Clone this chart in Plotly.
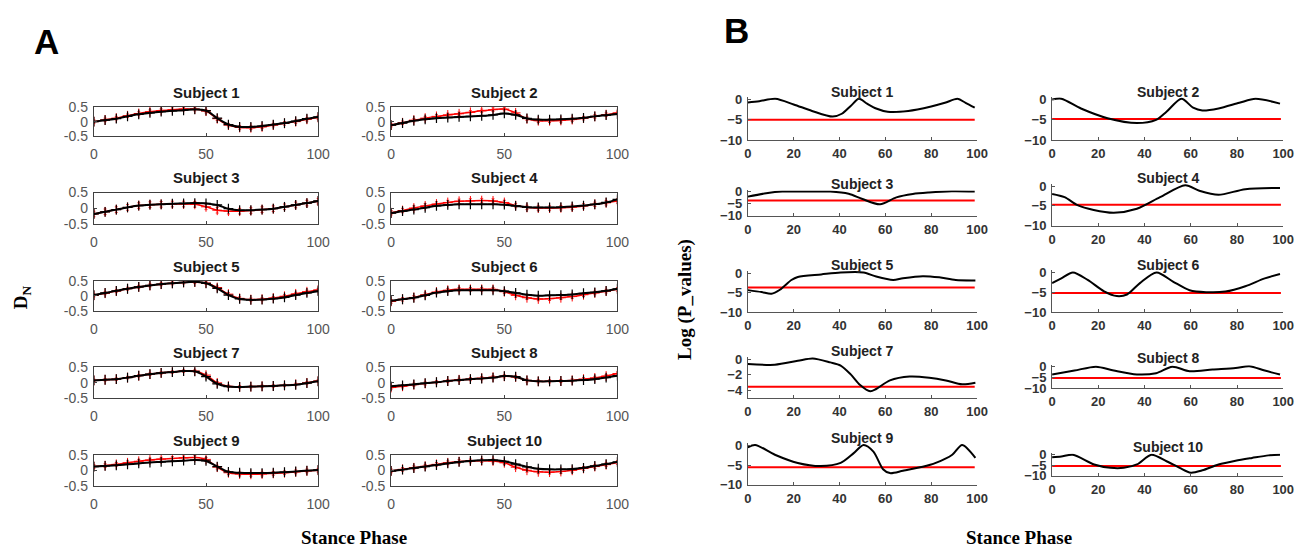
import plotly.graph_objects as go

W, H = 1314, 555

# ---------------- Panel A data (D_N vs stance phase) ----------------
stance_x = [0, 5, 10, 15, 20, 25, 30, 35, 40, 45, 50, 55, 60, 65, 70, 75, 80, 85, 90, 95, 100]

s1_black = [0.0, 0.05, 0.1, 0.18, 0.25, 0.3, 0.34, 0.37, 0.39, 0.42, 0.38, 0.12, -0.1, -0.18, -0.18, -0.15, -0.1, -0.05, 0.02, 0.1, 0.16]
s1_red = [0.0, 0.06, 0.12, 0.2, 0.28, 0.34, 0.38, 0.41, 0.43, 0.43, 0.36, 0.1, -0.12, -0.2, -0.21, -0.18, -0.12, -0.06, 0.0, 0.08, 0.14]
s2_black = [-0.12, -0.05, 0.03, 0.08, 0.12, 0.14, 0.16, 0.18, 0.2, 0.23, 0.28, 0.23, 0.11, 0.07, 0.07, 0.08, 0.1, 0.13, 0.18, 0.22, 0.26]
s2_red = [-0.12, -0.04, 0.05, 0.12, 0.18, 0.23, 0.27, 0.32, 0.37, 0.41, 0.43, 0.3, 0.1, 0.03, 0.03, 0.04, 0.07, 0.12, 0.18, 0.24, 0.3]
s3_black = [-0.19, -0.12, -0.05, 0.02, 0.08, 0.11, 0.12, 0.14, 0.15, 0.16, 0.15, 0.1, -0.02, -0.07, -0.07, -0.05, -0.02, 0.04, 0.1, 0.16, 0.23]
s3_red = [-0.19, -0.12, -0.05, 0.02, 0.08, 0.11, 0.12, 0.13, 0.13, 0.12, 0.04, -0.07, -0.1, -0.1, -0.08, -0.05, -0.02, 0.04, 0.1, 0.16, 0.22]
s4_black = [-0.16, -0.1, -0.05, 0.01, 0.07, 0.1, 0.12, 0.12, 0.12, 0.12, 0.11, 0.07, 0.03, 0.02, 0.02, 0.03, 0.05, 0.08, 0.12, 0.18, 0.28]
s4_red = [-0.15, -0.08, 0.0, 0.07, 0.13, 0.18, 0.22, 0.23, 0.24, 0.23, 0.18, 0.08, 0.02, 0.0, 0.0, 0.01, 0.03, 0.07, 0.12, 0.17, 0.23]
s5_black = [0.03, 0.1, 0.17, 0.24, 0.3, 0.35, 0.39, 0.42, 0.45, 0.47, 0.42, 0.25, 0.03, -0.1, -0.13, -0.12, -0.09, -0.05, 0.03, 0.1, 0.16]
s5_red = [0.02, 0.09, 0.16, 0.24, 0.3, 0.35, 0.39, 0.42, 0.45, 0.46, 0.43, 0.28, 0.06, -0.08, -0.12, -0.11, -0.07, -0.01, 0.07, 0.14, 0.2]
s6_black = [-0.16, -0.11, -0.06, 0.02, 0.11, 0.16, 0.19, 0.19, 0.19, 0.19, 0.16, 0.1, 0.04, 0.01, 0.02, 0.03, 0.05, 0.09, 0.12, 0.17, 0.24]
s6_red = [-0.18, -0.11, -0.05, 0.04, 0.13, 0.19, 0.22, 0.22, 0.22, 0.22, 0.14, 0.02, -0.06, -0.1, -0.09, -0.06, -0.02, 0.04, 0.1, 0.16, 0.22]
s7_black = [0.08, 0.1, 0.12, 0.17, 0.23, 0.28, 0.32, 0.35, 0.38, 0.37, 0.2, -0.03, -0.12, -0.13, -0.12, -0.11, -0.1, -0.08, -0.06, -0.01, 0.05]
s7_red = [0.08, 0.1, 0.12, 0.17, 0.23, 0.28, 0.32, 0.35, 0.38, 0.38, 0.25, 0.0, -0.11, -0.13, -0.12, -0.11, -0.1, -0.08, -0.05, 0.0, 0.06]
s8_black = [-0.11, -0.08, -0.05, -0.01, 0.02, 0.06, 0.09, 0.12, 0.14, 0.17, 0.22, 0.2, 0.08, 0.05, 0.05, 0.06, 0.07, 0.09, 0.12, 0.17, 0.23]
s8_red = [-0.15, -0.11, -0.06, -0.02, 0.02, 0.06, 0.1, 0.12, 0.15, 0.18, 0.21, 0.19, 0.08, 0.05, 0.05, 0.06, 0.08, 0.12, 0.16, 0.22, 0.3]
s9_black = [0.12, 0.14, 0.16, 0.19, 0.22, 0.25, 0.27, 0.29, 0.31, 0.33, 0.3, 0.12, -0.05, -0.08, -0.09, -0.09, -0.08, -0.06, -0.04, -0.01, 0.01]
s9_red = [0.12, 0.15, 0.19, 0.24, 0.29, 0.33, 0.36, 0.38, 0.4, 0.41, 0.35, 0.1, -0.08, -0.12, -0.13, -0.12, -0.1, -0.08, -0.05, -0.02, 0.0]
s10_black = [-0.02, 0.02, 0.07, 0.12, 0.17, 0.22, 0.27, 0.3, 0.32, 0.33, 0.29, 0.2, 0.11, 0.05, 0.03, 0.03, 0.04, 0.08, 0.14, 0.2, 0.27]
s10_red = [-0.02, 0.03, 0.08, 0.13, 0.19, 0.24, 0.28, 0.3, 0.31, 0.3, 0.24, 0.1, 0.0, -0.05, -0.06, -0.04, 0.0, 0.06, 0.12, 0.18, 0.25]

red_err = [0.06, 0.06, 0.09, 0.07, 0.05, 0.06, 0.04, 0.05, 0.06, 0.06]

a_ticks_x = [0, 50, 100]
a_ticks_y = [-0.5, 0, 0.5]
a_ticklabels_y = ["-0.5", "0", "0.5"]

# ---------------- Panel B data (log p-values) ----------------
b1_x = [0, 5, 12, 20, 28, 37, 41, 45, 48.5, 52, 56, 61, 70, 80, 86, 91.5, 95, 99]
b1_y = [-0.7, -0.4, 0.2, -1.2, -2.8, -4.2, -3.5, -1.5, 0.2, -1.0, -2.2, -3.0, -2.8, -1.7, -0.8, 0.2, -0.8, -2.0]
b2_x = [0, 4, 12.5, 24, 36.7, 45, 49.5, 56, 61, 65, 72, 81, 88, 98.6]
b2_y = [0.0, 0.2, -2.2, -4.6, -5.8, -5.0, -3.0, 0.2, -2.0, -2.7, -2.2, -0.8, 0.2, -1.0]
b3_x = [0, 8, 15, 25, 36, 44, 50, 57.7, 64.8, 72, 79, 89, 99]
b3_y = [-2.0, -0.6, 0.1, 0.1, 0.1, -0.8, -3.0, -5.2, -2.3, -0.9, -0.3, 0.2, 0.1]
b4_x = [0, 5.4, 11, 18, 26.7, 36.7, 46.7, 57.6, 63.7, 72, 83.6, 98.6]
b4_y = [-2.0, -2.8, -4.8, -6.0, -6.7, -5.7, -2.8, 0.2, -1.2, -2.2, -0.8, -0.5]
b5_x = [0, 6, 10.3, 14, 19, 21.8, 32, 40.5, 50.5, 56, 63.4, 67.7, 76.3, 83.5, 90.7, 99.3]
b5_y = [-4.3, -4.8, -5.25, -4.2, -1.7, -0.9, -0.25, 0.25, 0.25, -0.8, -1.7, -1.25, -0.7, -1.0, -1.7, -1.8]
b6_x = [0, 4, 9, 15.4, 22.5, 28, 32.4, 38, 45.2, 52.3, 59.5, 66.6, 75, 83.6, 92, 98.6]
b6_y = [-2.6, -1.4, 0.1, -1.8, -4.7, -5.9, -5.5, -2.6, 0.1, -2.2, -4.4, -4.9, -4.75, -3.4, -1.4, -0.3]
b7_x = [0, 11.8, 21.8, 28.3, 36, 40.5, 44.8, 49, 53.4, 56, 62, 70.6, 79.2, 86.4, 93.5, 99.3]
b7_y = [-0.6, -0.7, -0.2, 0.1, -0.4, -0.8, -1.9, -3.3, -4.1, -3.8, -2.7, -2.2, -2.35, -2.7, -3.2, -3.0]
b8_x = [0, 9.7, 19, 26.7, 36.7, 45, 52, 59.5, 69.4, 79.4, 85.3, 92, 98.6]
b8_y = [-3.6, -1.8, 0.0, -1.8, -3.6, -3.0, 0.0, -2.1, -1.3, -0.6, 0.2, -1.8, -3.6]
b9_x = [0, 3.2, 11.8, 21.8, 31.8, 40.5, 46.2, 50.5, 54.8, 59, 62, 67.7, 76.3, 82, 89.2, 93.5, 99.3]
b9_y = [-0.4, 0.2, -2.3, -4.4, -5.2, -4.4, -1.9, 0.2, -1.5, -6.0, -7.0, -6.4, -5.4, -4.4, -2.3, 0.2, -3.1]
b10_x = [0, 4, 9, 18.2, 25.3, 31, 36.7, 43, 49.5, 55.2, 60, 65, 72, 79.4, 86.5, 93.6, 98.6]
b10_y = [-1.2, -0.8, 0.0, -4.6, -6.2, -6.2, -4.6, 0.0, -3.1, -6.2, -8.5, -7.4, -4.6, -2.8, -1.5, -0.3, 0.0]

b_threshold = [-5.0, -4.8, -3.6, -4.7, -3.6, -5.1, -3.5, -5.2, -5.5, -5.4]
b_line_x = [0, 99]
b_ticks_x = [0, 20, 40, 60, 80, 100]
b_ticks_y = [-10, -5, 0]
b7_ticks_y = [-4, -2, 0]

subject_names = ["Subject %d" % i for i in range(1, 11)]

a_black = [s1_black, s2_black, s3_black, s4_black, s5_black, s6_black, s7_black, s8_black, s9_black, s10_black]
a_red = [s1_red, s2_red, s3_red, s4_red, s5_red, s6_red, s7_red, s8_red, s9_red, s10_red]
b_xs = [b1_x, b2_x, b3_x, b4_x, b5_x, b6_x, b7_x, b8_x, b9_x, b10_x]
b_ys = [b1_y, b2_y, b3_y, b4_y, b5_y, b6_y, b7_y, b8_y, b9_y, b10_y]

# ---------------- Layout geometry (pixels) ----------------
A_cols = [(91, 318), (392, 621)]
A_rows = [(102, 132), (190, 222), (281, 312), (370, 402), (460, 492)]

B_cols = [(753, 985), (1061, 1295)]
# (pixel of 0, pixel of ymin, ymin, ymax) per subject
B_rows = [(94.3, 136, -10, 0.6), (94.3, 136, -10, 0.6),
          (189.3, 214, -10, 0.6), (183.3, 224.3, -10, 0.6),
          (273.3, 313.3, -10, 0.6), (272.7, 313.3, -10, 0.6),
          (361.7, 402, -5, 0.3), (369.3, 391.7, -10, 0.6),
          (450.7, 491, -10, 0.6), (460, 481.7, -10, 0.6)]
B_title_y = [86, 86, 181.7, 175, 265, 265, 353.3, 360.7, 442.3, 451.7]


def fx(px):
    return px / W


def fy(py):
    return 1 - py / H


fig = go.Figure()
layout = dict(width=W, height=H, margin=dict(l=0, r=0, t=0, b=0),
              paper_bgcolor="white", plot_bgcolor="white", showlegend=False)
annotations = []

SANS = "Arial, Liberation Sans, sans-serif"
SERIF = "Times New Roman, Liberation Serif, serif"

# Panel A
for i in range(10):
    n = i + 1
    col = i % 2
    row = i // 2
    x0, x1 = A_cols[col]
    y0, y1 = A_rows[row]
    xa = "x" if n == 1 else "x%d" % n
    ya = "y" if n == 1 else "y%d" % n
    fig.add_trace(go.Scatter(
        x=stance_x, y=a_red[i], mode="lines+markers", xaxis=xa, yaxis=ya,
        line=dict(color="#ff0000", width=1.5, shape="spline"),
        marker=dict(symbol="cross-thin", size=7, line=dict(color="#ff0000", width=1)),
        error_y=dict(type="constant", value=red_err[i], color="#ff4040", thickness=1, width=1.5)))
    fig.add_trace(go.Scatter(
        x=stance_x, y=a_black[i], mode="lines+markers", xaxis=xa, yaxis=ya,
        line=dict(color="#000000", width=2, shape="spline"),
        marker=dict(symbol="cross-thin", size=7, line=dict(color="#000000", width=1.2))))
    kx = "xaxis" if n == 1 else "xaxis%d" % n
    ky = "yaxis" if n == 1 else "yaxis%d" % n
    layout[kx] = dict(domain=[fx(x0), fx(x1)], anchor=ya, range=[0, 100],
                      tickvals=a_ticks_x, ticks="inside", ticklen=3, tickcolor="#444",
                      showline=True, mirror=True, linecolor="#404040", linewidth=1.2,
                      showgrid=False, zeroline=False, ticklabelstandoff=5,
                      tickfont=dict(family=SANS, size=14, color="#555555"))
    layout[ky] = dict(domain=[fy(y1), fy(y0)], anchor=xa, range=[-0.5, 0.5],
                      tickvals=a_ticks_y, ticktext=a_ticklabels_y, ticks="inside",
                      ticklen=3, tickcolor="#444",
                      showline=True, mirror=True, linecolor="#404040", linewidth=1.2,
                      showgrid=False, zeroline=False, ticklabelstandoff=2,
                      tickfont=dict(family=SANS, size=14, color="#555555"))
    annotations.append(dict(text="<b>%s</b>" % subject_names[i], xref="paper", yref="paper",
                            x=fx((x0 + x1) / 2), y=fy(y0 - 15), xanchor="center", yanchor="middle",
                            showarrow=False, font=dict(family=SANS, size=15, color="#1a1a1a")))

# Panel B
for i in range(10):
    n = i + 11
    col = i % 2
    x0, x1 = B_cols[col]
    p0, pmin, ymin, ymax = B_rows[i]
    ppu = (pmin - p0) / (-ymin)
    ptop = p0 - ymax * ppu
    xa = "x%d" % n
    ya = "y%d" % n
    fig.add_trace(go.Scatter(
        x=b_line_x, y=[b_threshold[i], b_threshold[i]], mode="lines", xaxis=xa, yaxis=ya,
        line=dict(color="#ff0000", width=2)))
    fig.add_trace(go.Scatter(
        x=b_xs[i], y=b_ys[i], mode="lines", xaxis=xa, yaxis=ya,
        line=dict(color="#000000", width=2, shape="spline", smoothing=0.8)))
    ytv = b7_ticks_y if i == 6 else b_ticks_y
    layout["xaxis%d" % n] = dict(domain=[fx(x0), fx(x1)], anchor=ya, range=[0, 100],
                                 tickvals=b_ticks_x, ticks="inside", ticklen=3, tickcolor="#555",
                                 showline=True, mirror=False, linecolor="#555555", linewidth=1.2,
                                 showgrid=False, zeroline=False, ticklabelstandoff=1,
                                 tickfont=dict(family=SANS, size=13, color="#333333", weight="bold"))
    layout["yaxis%d" % n] = dict(domain=[fy(pmin), fy(ptop)], anchor=xa, range=[ymin, ymax],
                                 tickvals=ytv, ticks="inside", ticklen=3, tickcolor="#555",
                                 showline=True, mirror=False, linecolor="#555555", linewidth=1.2,
                                 showgrid=False, zeroline=False, ticklabelstandoff=2,
                                 tickfont=dict(family=SANS, size=13, color="#333333", weight="bold"))
    annotations.append(dict(text="<b>%s</b>" % subject_names[i], xref="paper", yref="paper",
                            x=fx((x0 + x1) / 2), y=fy(B_title_y[i]), xanchor="center", yanchor="middle",
                            showarrow=False, font=dict(family=SANS, size=14, color="#222222")))

# Panel letters and axis labels
annotations += [
    dict(text="<b>A</b>", xref="paper", yref="paper", x=fx(43), y=fy(35), xanchor="center",
         yanchor="middle", showarrow=False, font=dict(family=SANS, size=35, color="#000")),
    dict(text="<b>B</b>", xref="paper", yref="paper", x=fx(742), y=fy(23), xanchor="center",
         yanchor="middle", showarrow=False, font=dict(family=SANS, size=35, color="#000")),
    dict(text="<b>D<sub>N</sub></b>", xref="paper", yref="paper", x=fx(19), y=fy(298),
         xanchor="center", yanchor="middle", textangle=-90, showarrow=False,
         font=dict(family=SERIF, size=19, color="#000")),
    dict(text="<b>Log (P_values)</b>", xref="paper", yref="paper", x=fx(690), y=fy(300),
         xanchor="center", yanchor="middle", textangle=-90, showarrow=False,
         font=dict(family=SERIF, size=19, color="#000")),
    dict(text="<b>Stance Phase</b>", xref="paper", yref="paper", x=fx(354), y=fy(545),
         xanchor="center", yanchor="middle", showarrow=False,
         font=dict(family=SERIF, size=19, color="#000")),
    dict(text="<b>Stance Phase</b>", xref="paper", yref="paper", x=fx(1028), y=fy(545),
         xanchor="center", yanchor="middle", showarrow=False,
         font=dict(family=SERIF, size=19, color="#000")),
]
layout["annotations"] = annotations
fig.update_layout(**layout)
fig.write_html("out.html")
